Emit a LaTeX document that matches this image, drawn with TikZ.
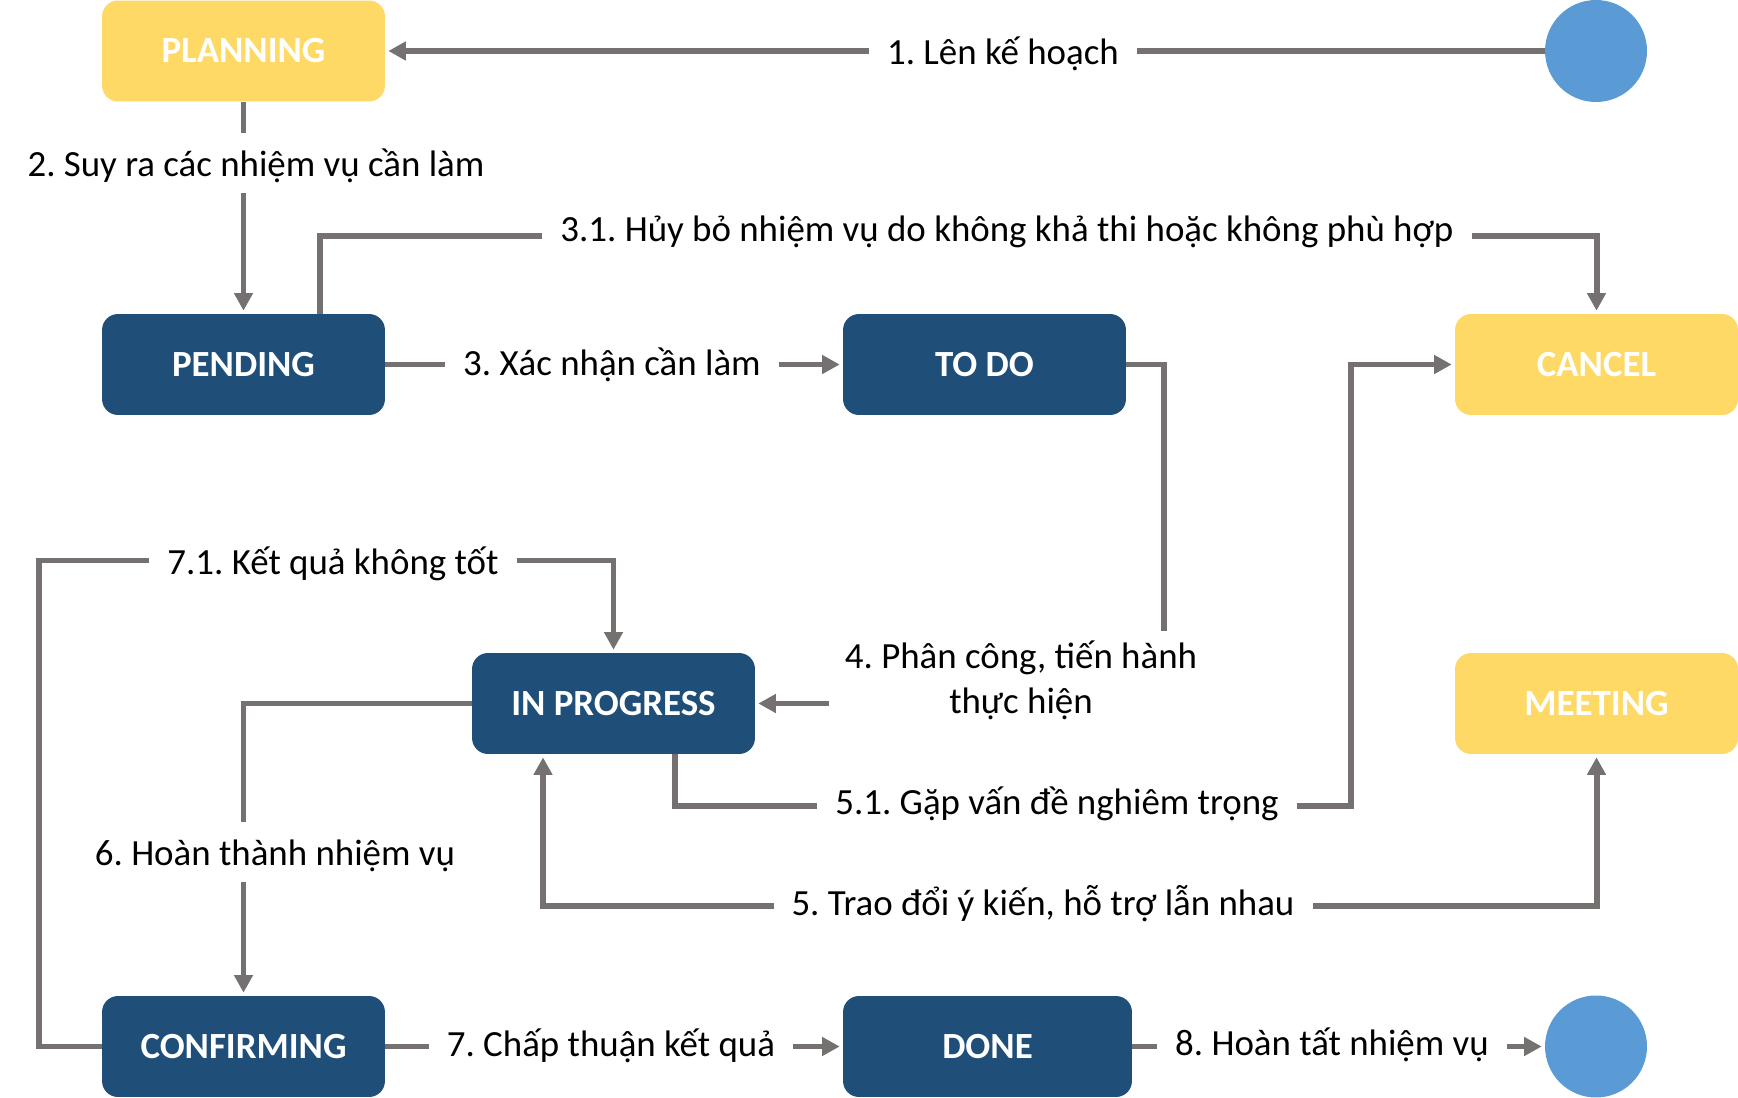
\documentclass[tikz,border=0pt]{standalone}
\usepackage{fontspec}
\setmainfont{Carlito}
\usetikzlibrary{arrows.meta}
\definecolor{navy}{HTML}{1F4E79}
\definecolor{sand}{HTML}{FFD966}
\definecolor{sky}{HTML}{5B9BD5}
\definecolor{wire}{HTML}{767171}
\frenchspacing
\begin{document}
\begin{tikzpicture}[x=0.02cm, y=-0.02cm, font=\fontsize{21}{25.6}\selectfont,
  >={Triangle[length=0.35cm,width=0.36cm]},
  state/.style={rectangle, rounded corners=0.32cm, minimum width=5.66cm, minimum height=2.02cm, inner sep=0pt, text=white, font=\fontsize{21}{25.6}\selectfont\bfseries},
  darkbox/.style={state, fill=navy},
  lightbox/.style={state, fill=sand},
  endpoint/.style={circle, fill=sky, minimum size=2.04cm, inner sep=0pt},
  flow/.style={draw=wire, line width=3.4pt, shorten >=0.06cm},
  lbl/.style={fill=white, inner xsep=0.36cm, inner ysep=2pt, text height=23pt, text depth=7.7pt},
  lbltwo/.style={fill=white, inner xsep=0.32cm, inner ysep=0.2cm, align=center}]
	\fill[white] (0,0) rectangle (1738,1098);
	\useasboundingbox (0,0) rectangle (1738,1098);
	% states
	\node[lightbox] (planning) at (243.5,51) {PLANNING};
	\node[endpoint] (start) at (1596,51) {};
	\node[darkbox] (pending) at (243.5,364.5) {PENDING};
	\node[darkbox] (todo) at (984.5,364.5) {TO DO};
	\node[lightbox] (cancel) at (1596.5,364.5) {CANCEL};
	\node[darkbox] (inprog) at (613.5,703.5) {IN PROGRESS};
	\node[lightbox] (meeting) at (1596.5,703.5) {MEETING};
	\node[darkbox] (confirm) at (243.5,1046.5) {CONFIRMING};
	\node[darkbox, minimum width=5.78cm] (done) at (987.5,1046.5) {DONE};
	\node[endpoint] (finish) at (1596,1046.5) {};
	% transitions
	\draw[flow,->] (start) -- (planning);
	\draw[flow,->] (planning) -- (pending);
	\draw[flow,->] (pending) -- (todo);
	\draw[flow,->] ([xshift=1.53cm]pending.north) -- ++(0,-78) -| (cancel.north);
	\draw[flow,->] (todo.east) -- ++(38,0) |- (inprog.east);
	\draw[flow,->] ([xshift=1.23cm]inprog.south) -- ++(0,52) -- ++(676,0) |- (cancel.west);
	\draw[flow,<->,shorten <=0.06cm] ([xshift=-1.41cm]inprog.south) -- ++(0,152) -| (meeting.south);
	\draw[flow,->] (inprog.west) -| (confirm.north);
	\draw[flow,->] (confirm) -- (done);
	\draw[flow,->] (confirm.west) -- ++(-63,0) -- ++(0,-486) -| (inprog.north);
	\draw[flow,->] (done) -- (finish);
	% labels
	\node[lbl] (l1) at (1003,51) {1. Lên kế hoạch};
	\node[lbl] (l2) at (256,163) {2. Suy ra các nhiệm vụ cần làm};
	\node[lbl] (l3) at (612,362) {3. Xác nhận cần làm};
	\node[lbl] (l31) at (1007,228) {3.1. Hủy bỏ nhiệm vụ do không khả thi hoặc không phù hợp};
	\node[lbltwo] (l4) at (1021,680) {4. Phân công, tiến hành\\thực hiện};
	\node[lbl] (l51) at (1057,801) {5.1. Gặp vấn đề nghiêm trọng};
	\node[lbl] (l5) at (1043,902) {5. Trao đổi ý kiến, hỗ trợ lẫn nhau};
	\node[lbl] (l6) at (275,852) {6. Hoàn thành nhiệm vụ};
	\node[lbl] (l7) at (611,1043) {7. Chấp thuận kết quả};
	\node[lbl] (l71) at (333,561) {7.1. Kết quả không tốt};
	\node[lbl] (l8) at (1332,1042) {8. Hoàn tất nhiệm vụ};
\end{tikzpicture}
\end{document}
